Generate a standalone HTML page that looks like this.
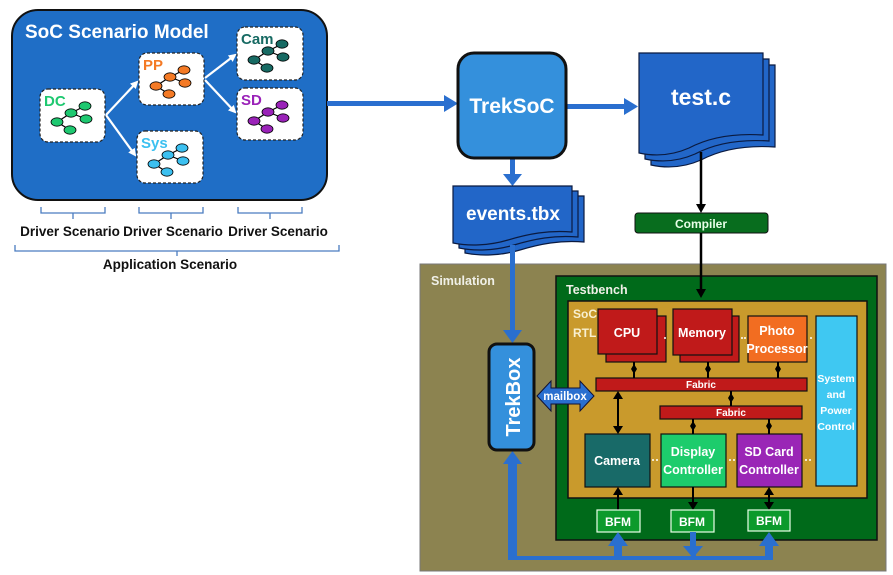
<!DOCTYPE html>
<html><head><meta charset="utf-8"><style>
html,body{margin:0;padding:0;background:#fff;}
svg{display:block;font-family:"Liberation Sans",sans-serif;font-weight:bold;}
</style></head><body>
<svg width="893" height="575" viewBox="0 0 893 575" xmlns="http://www.w3.org/2000/svg">
<defs>
<marker id="wa" markerWidth="8" markerHeight="8" refX="6" refY="4" orient="auto" markerUnits="userSpaceOnUse"><path d="M0,0 L8,4 L0,8 Z" fill="#fff"/></marker>
<g id="tree">
<line x1="17" y1="33" x2="31" y2="24" stroke="#000" stroke-width="1.2"/>
<line x1="31" y1="24" x2="45" y2="17" stroke="#000" stroke-width="1.2"/>
<line x1="31" y1="24" x2="46" y2="30" stroke="#000" stroke-width="1.2"/>
<line x1="17" y1="33" x2="30" y2="41" stroke="#000" stroke-width="1.2"/>
<ellipse cx="45" cy="17" rx="6" ry="4.2" stroke="#000" stroke-width="0.8"/>
<ellipse cx="31" cy="24" rx="6" ry="4.2" stroke="#000" stroke-width="0.8"/>
<ellipse cx="46" cy="30" rx="6" ry="4.2" stroke="#000" stroke-width="0.8"/>
<ellipse cx="17" cy="33" rx="6" ry="4.2" stroke="#000" stroke-width="0.8"/>
<ellipse cx="30" cy="41" rx="6" ry="4.2" stroke="#000" stroke-width="0.8"/>
</g>
</defs>

<!-- SoC Scenario Model -->
<rect x="12" y="10" width="315" height="190" rx="26" fill="#1f6ec6" stroke="#111" stroke-width="2"/>
<text x="25" y="38" fill="#fff" font-size="19">SoC Scenario Model</text>

<g stroke="#222" stroke-width="1.2" stroke-dasharray="3,2" fill="#fff">
<rect x="40" y="89" width="65" height="53" rx="8"/>
<rect x="139" y="53" width="65" height="52" rx="8"/>
<rect x="137" y="131" width="66" height="52" rx="8"/>
<rect x="237" y="27" width="66" height="53" rx="8"/>
<rect x="237" y="88" width="66" height="52" rx="8"/>
</g>
<text x="44" y="106" fill="#1ec870" font-size="15">DC</text>
<g transform="translate(40,89)" fill="#1ec870"><use href="#tree"/></g>
<text x="143" y="70" fill="#f47a25" font-size="15">PP</text>
<g transform="translate(139,53)" fill="#f47a25"><use href="#tree"/></g>
<text x="141" y="148" fill="#3cc0f0" font-size="15">Sys</text>
<g transform="translate(137,131)" fill="#3cc0f0"><use href="#tree"/></g>
<text x="241" y="44" fill="#176a63" font-size="15">Cam</text>
<g transform="translate(237,27)" fill="#176a63"><use href="#tree"/></g>
<text x="241" y="105" fill="#9a22b8" font-size="15">SD</text>
<g transform="translate(237,88)" fill="#9a22b8"><use href="#tree"/></g>

<g stroke="#fff" stroke-width="2.2" marker-end="url(#wa)">
<line x1="106" y1="115" x2="137" y2="82"/>
<line x1="106" y1="115" x2="135" y2="155"/>
<line x1="205" y1="78" x2="235" y2="55"/>
<line x1="205" y1="80" x2="235" y2="112"/>
</g>

<!-- brackets -->
<g stroke="#4a7cc0" stroke-width="1.3" fill="none">
<path d="M41,207 V213 H105 V207 M73,213 V219"/>
<path d="M139,207 V213 H203 V207 M171,213 V219"/>
<path d="M238,207 V213 H302 V207 M270,213 V219"/>
<path d="M15,245 V251 H339 V245 M177,251 V256"/>
</g>
<g font-size="13.5" fill="#111" text-anchor="middle">
<text x="70" y="236">Driver Scenario</text>
<text x="173" y="236">Driver Scenario</text>
<text x="278" y="236">Driver Scenario</text>
<text x="170" y="269">Application Scenario</text>
</g>

<!-- main flow -->
<g fill="#2a6fcf">
<rect x="327" y="101" width="118" height="5"/>
<path d="M444,95 L458,103.5 L444,112 Z"/>
<rect x="566" y="104" width="60" height="5"/>
<path d="M624,98 L638,106.5 L624,115 Z"/>
<rect x="510" y="158" width="5" height="18"/>
<path d="M503,174 L512.5,186 L522,174 Z"/>
</g>
<rect x="458" y="53" width="108" height="105" rx="16" fill="#3490dc" stroke="#111" stroke-width="3"/>
<text x="512" y="113" fill="#fff" font-size="21" text-anchor="middle">TrekSoC</text>

<!-- test.c doc -->
<g fill="#2266c8" stroke="#0a1a40" stroke-width="1.2">
<path d="M651,65 H775 V147 C745,145 720,150 701,160 C683,168 665,168 651,165 Z"/>
<path d="M645,59 H769 V141 C739,139 714,144 695,154 C677,162 659,162 645,159 Z"/>
<path d="M639,53 H763 V135 C733,133 708,138 689,148 C671,156 653,156 639,153 Z"/>
</g>
<text x="701" y="105" fill="#fff" font-size="23" text-anchor="middle">test.c</text>

<!-- events.tbx doc -->
<g fill="#2266c8" stroke="#0a1a40" stroke-width="1.2">
<path d="M465,196 H584 V242 C560,240 540,244 520,250 C500,256 480,256 465,253 Z"/>
<path d="M459,191 H578 V237 C554,235 534,239 514,245 C494,251 474,251 459,248 Z"/>
<path d="M453,186 H572 V232 C548,230 528,234 508,240 C488,246 468,246 453,243 Z"/>
</g>
<text x="513" y="220" fill="#fff" font-size="19" text-anchor="middle">events.tbx</text>

<!-- compiler -->
<line x1="701" y1="152" x2="701" y2="206" stroke="#000" stroke-width="2.5"/>
<path d="M696,204 L701,213 L706,204 Z" fill="#000"/>
<rect x="635" y="213" width="133" height="20" rx="3" fill="#086d1e" stroke="#111" stroke-width="1"/>
<text x="701" y="228" fill="#e8ffe8" font-size="12" text-anchor="middle">Compiler</text>

<!-- Simulation -->
<rect x="420" y="264" width="466" height="307" fill="#8c8350" stroke="#777" stroke-width="1"/>
<text x="431" y="285" fill="#f0f0e8" font-size="12.5">Simulation</text>
<rect x="556" y="276" width="321" height="264" fill="#006a1a" stroke="#111" stroke-width="1.5"/>
<text x="566" y="294" fill="#f0f0e8" font-size="12.5">Testbench</text>
<line x1="701" y1="233" x2="701" y2="291" stroke="#000" stroke-width="2.5"/>
<path d="M696,289 L701,298 L706,289 Z" fill="#000"/>
<rect x="568" y="301" width="299" height="197" fill="#c99a2c" stroke="#111" stroke-width="1.5"/>
<text x="573" y="318" fill="#f8f0d0" font-size="12">SoC</text>
<text x="573" y="337" fill="#f8f0d0" font-size="12">RTL</text>

<g stroke="#111" stroke-width="1.2">
<rect x="606" y="316" width="60" height="46" fill="#c01a1a"/>
<rect x="598" y="309" width="59" height="45" fill="#c01a1a"/>
<rect x="680" y="316" width="59" height="46" fill="#c01a1a"/>
<rect x="673" y="309" width="59" height="46" fill="#c01a1a"/>
<rect x="748" y="316" width="59" height="46" fill="#f26d21"/>
<rect x="816" y="316" width="41" height="170" fill="#3fc8f2"/>
<rect x="596" y="378" width="211" height="13" fill="#c01a1a"/>
<rect x="660" y="406" width="142" height="13" fill="#c01a1a"/>
<rect x="585" y="434" width="65" height="53" fill="#186a68"/>
<rect x="661" y="434" width="65" height="53" fill="#1dcc6c"/>
<rect x="737" y="434" width="65" height="53" fill="#9a26b6"/>
</g>
<g fill="#fff" font-size="12.5" text-anchor="middle">
<text x="627" y="337">CPU</text>
<text x="702" y="337">Memory</text>
<text x="777" y="335">Photo</text>
<text x="777" y="353">Processor</text>
<text x="836" y="382" font-size="10.5">System</text>
<text x="836" y="398" font-size="10.5">and</text>
<text x="836" y="414" font-size="10.5">Power</text>
<text x="836" y="430" font-size="10.5">Control</text>
<text x="701" y="388" font-size="10">Fabric</text>
<text x="731" y="416" font-size="10">Fabric</text>
<text x="617" y="465">Camera</text>
<text x="693" y="456">Display</text>
<text x="693" y="474">Controller</text>
<text x="769" y="456">SD Card</text>
<text x="769" y="474">Controller</text>
</g>
<g fill="#fff"><circle cx="665" cy="338" r="1"/><circle cx="742" cy="338" r="1"/><circle cx="745" cy="338" r="1"/><circle cx="811" cy="338" r="1"/>
<circle cx="653" cy="460" r="1"/><circle cx="657" cy="460" r="1"/><circle cx="730" cy="460" r="1"/><circle cx="734" cy="460" r="1"/><circle cx="806" cy="460" r="1"/><circle cx="810" cy="460" r="1"/></g>

<!-- diamond connectors -->
<g stroke="#000" stroke-width="2">
<line x1="634" y1="362" x2="634" y2="378"/><line x1="708" y1="362" x2="708" y2="378"/><line x1="778" y1="362" x2="778" y2="378"/>
<line x1="731" y1="391" x2="731" y2="406"/><line x1="693" y1="419" x2="693" y2="434"/><line x1="769" y1="419" x2="769" y2="434"/>
<line x1="618" y1="394" x2="618" y2="431"/>
<line x1="618" y1="490" x2="618" y2="510"/><line x1="693" y1="487" x2="693" y2="506"/><line x1="769" y1="490" x2="769" y2="507"/>
</g>
<g fill="#000">
<path d="M634,364 l3,5 l-3,5 l-3,-5Z"/><path d="M708,364 l3,5 l-3,5 l-3,-5Z"/><path d="M778,364 l3,5 l-3,5 l-3,-5Z"/>
<path d="M731,393 l3,5 l-3,5 l-3,-5Z"/><path d="M693,421 l3,5 l-3,5 l-3,-5Z"/><path d="M769,421 l3,5 l-3,5 l-3,-5Z"/>
<path d="M613,399 L618,391 L623,399Z"/><path d="M613,426 L618,434 L623,426Z"/>
<path d="M613,495 L618,487 L623,495Z"/><path d="M688,502 L693,510 L698,502Z"/>
<path d="M764,495 L769,487 L774,495Z"/><path d="M764,502 L769,510 L774,502Z"/>
</g>

<!-- BFMs -->
<g fill="#0c9a2c" stroke="#e8ffe8" stroke-width="1.2">
<rect x="597" y="510" width="43" height="22"/>
<rect x="671" y="510" width="43" height="22"/>
<rect x="748" y="510" width="42" height="21"/>
</g>
<g fill="#fff" font-size="12" text-anchor="middle">
<text x="618" y="526">BFM</text><text x="692" y="526">BFM</text><text x="769" y="525">BFM</text>
</g>

<!-- blue TrekBox links -->
<g fill="#2a6fcf">
<rect x="510" y="245" width="5" height="88"/>
<path d="M503,330 L512.5,343 L522,330 Z"/>
<path d="M508,462 V560 H773 V544 H765 V556 H696 V548 H691 V556 H622 V544 H614 V556 H517 V462 Z"/>
<path d="M503,464 L512.5,451 L522,464 Z"/>
<path d="M608,546 L618,532 L628,546 Z"/>
<path d="M683,546 L693,558 L703,546 Z"/>
<rect x="690" y="532" width="6" height="15"/>
<path d="M759,546 L769,532 L779,546 Z"/>
</g>
<rect x="489" y="344" width="45" height="106" rx="8" fill="#3490dc" stroke="#111" stroke-width="3"/>
<text transform="translate(520,397) rotate(-90)" fill="#fff" font-size="20" text-anchor="middle">TrekBox</text>
<path d="M537,396 L551,381 V388 H580 V381 L594,396 L580,411 V404 H551 V411 Z" fill="#2a6fcf" stroke="#113" stroke-width="1"/>
<text x="565" y="400" fill="#fff" font-size="11.5" text-anchor="middle">mailbox</text>
</svg>
</body></html>
